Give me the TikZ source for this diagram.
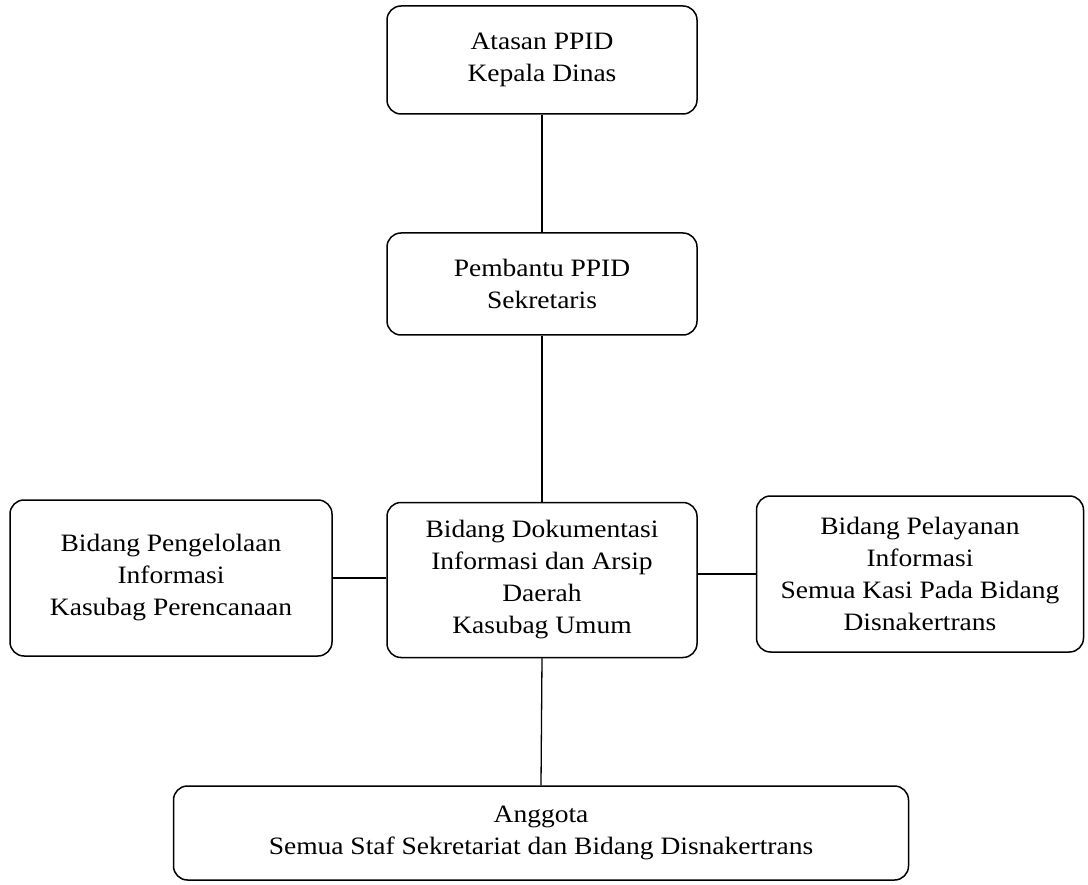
\documentclass[tikz,border=0pt]{standalone}
\usepackage{fontspec}
\setmainfont[FakeStretch=1.1]{Liberation Serif}
\tikzstyle{mybox}=[draw,line width=1.5pt,rounded corners=14pt,align=center,inner sep=0pt,font=\fontsize{25}{32}\selectfont]
\tikzstyle{myline}=[line width=1.3pt]
\begin{document}
\begin{tikzpicture}[x=1pt,y=-1pt]
		\useasboundingbox (0,0) rectangle (1088,885);
		% kolom tengah
		\node[mybox,minimum width=310pt,minimum height=108pt] (atasan) at (542,60) {Atasan PPID\\Kepala Dinas};
		\node[mybox,minimum width=310pt,minimum height=102pt] (pembantu) at (542,284) {Pembantu PPID\\Sekretaris};
		\node[mybox,minimum width=310pt,minimum height=155pt] (dokumentasi) at (542,580) {Bidang Dokumentasi\\Informasi dan Arsip\\Daerah\\Kasubag Umum};
		\node[mybox,minimum width=735pt,minimum height=94pt] (anggota) at (541,833) {Anggota\\Semua Staf Sekretariat dan Bidang Disnakertrans};

		% kiri dan kanan
		\node[mybox,minimum width=322pt,minimum height=156pt] (pengelolaan) at (171,578) {Bidang Pengelolaan\\Informasi\\Kasubag Perencanaan};
		\node[mybox,minimum width=327pt,minimum height=156pt] (pelayanan) at (920,574) {Bidang Pelayanan\\Informasi\\Semua Kasi Pada Bidang\\Disnakertrans};

		\draw[myline] (atasan.south) -- (pembantu.north);
		\draw[myline] (pembantu.south) -- (dokumentasi.north);
		\draw[myline] (dokumentasi.south) -- (anggota.north);
		\draw[myline] (pengelolaan.east) -- (pengelolaan.east -| dokumentasi.west);
		\draw[myline] (dokumentasi.east |- pelayanan.west) -- (pelayanan.west);
	\end{tikzpicture}
\end{document}
